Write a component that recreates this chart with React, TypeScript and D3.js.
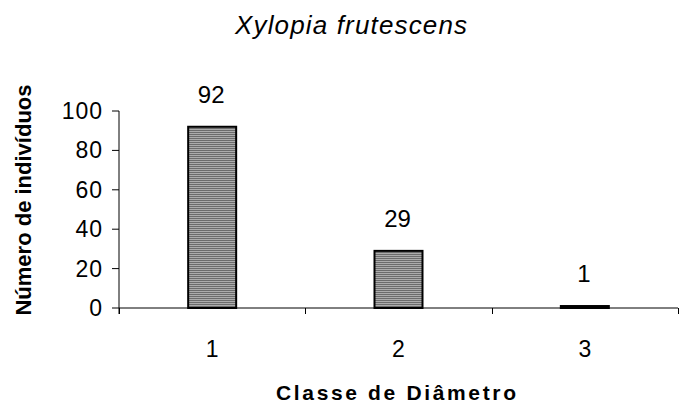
import React from "react";
import * as d3 from "d3";

const categories = ["1", "2", "3"];
const values = [92, 29, 1];
const yTicks = [0, 20, 40, 60, 80, 100];
const title = "Xylopia frutescens";
const xTitle = "Classe de Diâmetro";
const yTitle = "Número de indivíduos";

const W = 680;
const H = 405;
const left = 119;
const right = 678;
const top = 111;
const bottom = 308;
const font = "'Liberation Sans', Arial, sans-serif";

export default function App() {
  const x = d3.scaleBand<string>().domain(categories).range([left, right]).paddingInner(0).paddingOuter(0);
  const y = d3.scaleLinear().domain([0, 100]).range([bottom, top]);
  const bw = 48;
  const boundaries = d3.range(categories.length + 1).map((i) => left + i * x.bandwidth());

  return (
    <div style={{ position: "fixed", left: 0, top: 0 }}>
      <svg width={W} height={H} style={{ display: "block", background: "#fff" }}>
        <defs>
          <pattern id="hstripe" width="4" height="2" patternUnits="userSpaceOnUse">
            <rect x="0" y="0" width="4" height="1" fill="#6c6c6c" />
            <rect x="0" y="1" width="4" height="1" fill="#acacac" />
          </pattern>
        </defs>
        <text x={235} y={34} fontFamily={font} fontStyle="italic" fontSize={26} textLength={232} lengthAdjust="spacing" fill="#000">
          {title}
        </text>
        {/* bars */}
        {values.map((v, i) => {
          const cx = (x(categories[i]) as number) + x.bandwidth() / 2;
          const yt = y(v);
          return (
            <g key={i}>
              <rect x={cx - bw / 2} y={yt} width={bw} height={bottom - yt} fill="url(#hstripe)" stroke="#000" strokeWidth={2} />
              <text x={cx - 1} y={yt - 24} textAnchor="middle" fontFamily={font} fontSize={24} fill="#000">
                {v}
              </text>
            </g>
          );
        })}
        {/* y axis */}
        <line x1={left} y1={top} x2={left} y2={bottom + 6} stroke="#000" strokeWidth={1} />
        {yTicks.map((t) => (
          <g key={t}>
            <line x1={left - 7} y1={y(t)} x2={left} y2={y(t)} stroke="#000" strokeWidth={1} />
            <text x={103} y={y(t) + 8} textAnchor="end" fontFamily={font} fontSize={23} letterSpacing={1} fill="#000">
              {t}
            </text>
          </g>
        ))}
        {/* x axis */}
        <line x1={left} y1={bottom} x2={right} y2={bottom} stroke="#000" strokeWidth={1} />
        {boundaries.map((b, i) => (
          <line key={i} x1={Math.round(b) + 0.5} y1={bottom} x2={Math.round(b) + 0.5} y2={bottom + 6} stroke="#000" strokeWidth={1} />
        ))}
        {categories.map((c) => (
          <text key={c} x={(x(c) as number) + x.bandwidth() / 2} y={357} textAnchor="middle" fontFamily={font} fontSize={23} fill="#000">
            {c}
          </text>
        ))}
        <text x={276} y={400} fontFamily={font} fontWeight="bold" fontSize={21} textLength={240} lengthAdjust="spacing" fill="#000">
          {xTitle}
        </text>
        <text
          transform={`translate(31,${200}) rotate(-90)`}
          textAnchor="middle"
          fontFamily={font}
          fontWeight="bold"
          fontSize={22}
          fill="#000"
        >
          {yTitle}
        </text>
      </svg>
    </div>
  );
}
